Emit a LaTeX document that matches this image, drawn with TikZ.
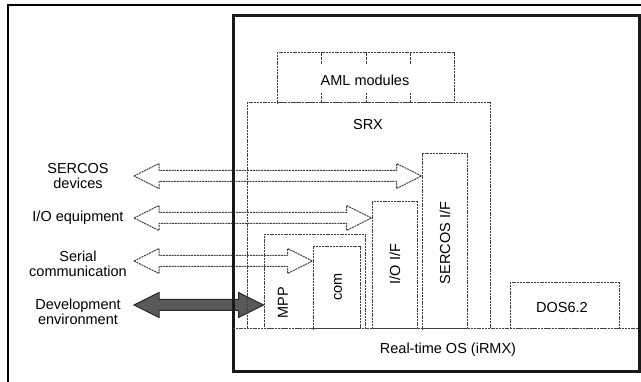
\documentclass[tikz,border=0pt]{standalone}
\usepackage{fontspec}
\setmainfont{Liberation Sans}
\usetikzlibrary{calc,fit,backgrounds}

% hollow block arrow with heads at both ends: #1 style, #2 left tip, #3 right tip
\newcommand\dblarrow[3]{%
  \draw[#1] (#2) -- ++(25,-12.5) -- ++(0,7) -- ($(#3)+(-25,-5.5)$) -- ++(0,-7)
    -- (#3) -- ++(-25,12.5) -- ++(0,-7) -- ($(#2)+(25,5.5)$) -- ++(0,7) -- cycle;}

\begin{document}
\begin{tikzpicture}[x=1pt,y=-1pt,
  txt/.style={font=\fontsize{14.5}{15}\selectfont, align=center, inner sep=0pt},
  box/.style={draw=black!75, dash pattern=on 2pt off 0.8pt, line width=1pt, inner sep=0pt},
  divider/.style={draw=black!75, dash pattern=on 3pt off 1pt, line width=1pt},
  hollow/.style={draw=black!75, dash pattern=on 2pt off 0.8pt, line width=1pt},
  solidarrow/.style={draw=black!85, fill=black!65, line width=1pt}]

\useasboundingbox (0,0) rectangle (641,382);

% outer frame of the figure
\draw[line width=2pt] (8,382) -- (8,5) -- (641,5);

% target system frame
\node[draw=black!90, line width=3pt, inner sep=0pt, fit={(233,16) (639,372)}] (sys) {};
\coordinate (osl) at (233,329);
\coordinate (osr) at (639,329);
\draw[box] (osl) -- (osr);
\node[txt] (rtos) at (448,350) {Real-time OS (iRMX)};

% software blocks
\node[box, fit={(247,103) (490,329)}] (srx) {};
\node[txt] (srxlbl) at (368,125) {SRX};

\node[box, fit={(277,53) (454,103)}] (aml) {};
\node[txt] (amllbl) at (365,80) {AML modules};
\foreach \dx [count=\i] in {321,366,410} {
  \coordinate (dt\i) at (\dx,53);
  \coordinate (db\i) at (\dx,103);
  \draw[divider] (dt\i) -- ++(0,12);
  \draw[divider] (db\i) -- ++(0,-10);
}

\node[box, fit={(264,235) (365,329)}] (mpp) {};
\node[txt, rotate=90] (mpplbl) at (283,303) {MPP};
\node[box, fit={(313,247) (360,329)}] (com) {};
\node[txt, rotate=90] (comlbl) at (338,287) {com};
\node[box, fit={(372,202) (417,329)}] (io) {};
\node[txt, rotate=90] (iolbl) at (395,264) {I/O I/F};
\node[box, fit={(422,154) (467,329)}] (sercos) {};
\node[txt, rotate=90] (sercoslbl) at (445,243) {SERCOS I/F};
\node[box, fit={(510,283) (619,329)}] (dos) {};
\node[txt] (doslbl) at (562,308) {DOS6.2};

% external parties
\node[txt] (ext1) at (78,176) {SERCOS\\devices};
\node[txt] (ext2) at (78,218) {I/O equipment};
\node[txt] (ext3) at (78,264) {Serial\\communication};
\node[txt] (ext4) at (78,312) {Development\\environment};

% connections
\coordinate (a1) at (134,176);
\coordinate (a2) at (134,218);
\coordinate (a3) at (134,261);
\coordinate (a4) at (134,305);
\coordinate (b1) at (sercos.west |- a1);
\coordinate (b2) at (io.west |- a2);
\coordinate (b3) at (com.west |- a3);
\coordinate (b4) at (mpp.west |- a4);
\begin{scope}[on background layer]
  \dblarrow{hollow}{a1}{b1}
  \dblarrow{hollow}{a2}{b2}
  \dblarrow{hollow}{a3}{b3}
  \dblarrow{solidarrow}{a4}{b4}
\end{scope}
\end{tikzpicture}
\end{document}
